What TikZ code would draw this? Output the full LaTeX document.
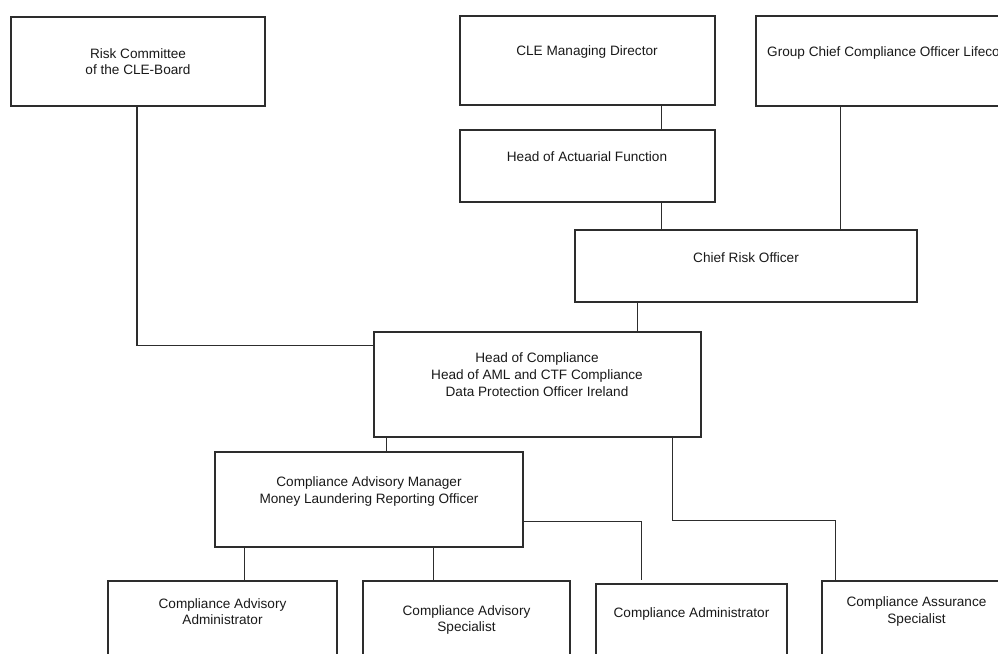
\documentclass[tikz,border=0pt]{standalone}
\usepackage{fontspec}
\setmainfont{Liberation Sans}
\definecolor{linec}{RGB}{45,45,45}
\definecolor{textc}{RGB}{25,25,25}
\begin{document}
\begin{tikzpicture}[x=1pt,y=-1pt,
  box/.style={draw=linec, line width=1.1pt, rectangle, inner sep=0pt},
  txt/.style={font=\fontsize{13.6}{16.7}\selectfont, align=center, inner sep=0pt, text=textc},
  conn/.style={draw=linec, line width=1.1pt}]
\useasboundingbox (0,0) rectangle (998,653);
\clip (0,0) rectangle (998,653);
% boxes
\node[box, minimum width=254pt, minimum height=89pt] (rc) at (138,61.5) {};
\node[box, minimum width=255pt, minimum height=89pt] (md) at (587.5,60.5) {};
\node[box, minimum width=394pt, minimum height=90pt] (gcco) at (953,61) {};
\node[box, minimum width=255pt, minimum height=72pt] (haf) at (587.5,166) {};
\node[box, minimum width=342pt, minimum height=72pt] (cro) at (746,266) {};
\node[box, minimum width=327pt, minimum height=105pt] (hoc) at (537.5,384.5) {};
\node[box, minimum width=308pt, minimum height=95pt] (cam) at (369,499.5) {};
\node[box, minimum width=229pt, minimum height=119pt] (caa) at (222.5,640.5) {};
\node[box, minimum width=207pt, minimum height=119pt] (cavs) at (466.5,640.5) {};
\node[box, minimum width=191pt, minimum height=116pt] (cad) at (691.5,642) {};
\node[box, minimum width=189pt, minimum height=119pt] (cas) at (916.5,640.5) {};
% texts
\node[txt] (rct) at (138,61.5) {Risk Committee\\of the CLE-Board};
\node[txt] (mdt) at (587,52) {CLE Managing Director};
\node[txt, anchor=west] (gccot) at (767,53) {Group Chief Compliance Officer Lifeco};
\node[txt] (haft) at (587,157) {Head of Actuarial Function};
\node[txt] (crot) at (746,258) {Chief Risk Officer};
\node[txt] (hoct) at (537,374.5) {Head of Compliance\\Head of AML and CTF Compliance\\Data Protection Officer Ireland};
\node[txt] (camt) at (369,491.5) {Compliance Advisory Manager\\Money Laundering Reporting Officer};
\node[txt] (caat) at (222.5,611.5) {Compliance Advisory\\Administrator};
\node[txt] (cavst) at (466.5,620) {Compliance Advisory\\Specialist};
\node[txt] (cadt) at (691.5,614) {Compliance Administrator};
\node[txt] (cast) at (916.5,611.5) {Compliance Assurance\\Specialist};
% connectors
\draw[conn] ([xshift=-1pt]rc.south) |- ([yshift=-14pt]hoc.north west);
\draw[conn] ([xshift=-54pt]md.south east) -- ([xshift=-54pt]haf.north east);
\draw[conn] ([xshift=-54pt]haf.south east) -- ([xshift=-54pt]haf.south east |- cro.north);
\draw[conn] ([xshift=85pt]gcco.south west) -- ([xshift=85pt]gcco.south west |- cro.north);
\draw[conn] ([xshift=63pt]cro.south west) -- ([xshift=63pt]cro.south west |- hoc.north);
\draw[conn] ([xshift=13pt]hoc.south west) -- ([xshift=13pt]hoc.south west |- cam.north);
\draw[conn] ([xshift=-29pt]hoc.south east) |- ([xshift=14pt,yshift=60pt]cas.north west) -- ([xshift=14pt]cas.north west);
\draw[conn] ([yshift=26pt]cam.south east) -| ([xshift=46pt,yshift=3pt]cad.north west);
\draw[conn] ([xshift=30pt]cam.south west) -- ([xshift=30pt]cam.south west |- caa.north);
\draw[conn] ([xshift=219pt]cam.south west) -- ([xshift=219pt]cam.south west |- cavs.north);
\end{tikzpicture}
\end{document}
